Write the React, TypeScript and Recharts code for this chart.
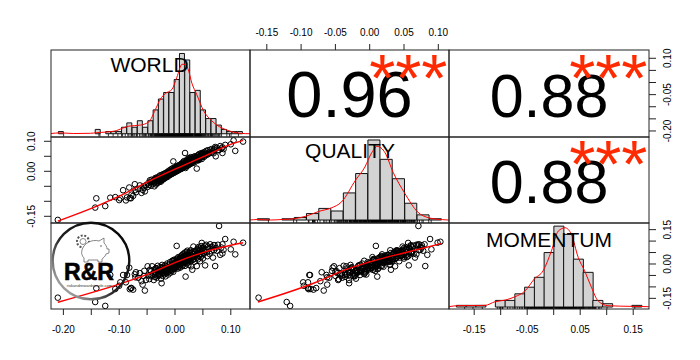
import React from "react";
import { BarChart, ComposedChart, ScatterChart, Scatter, Bar, Line, XAxis, YAxis } from "recharts";

const FONT = "'Liberation Sans', Arial, sans-serif";
const RED = "#ff0000";
const STAR_RED = "#ff2a00";

// panel edges on the page
const COL_EDGES = [51, 250, 449, 649];
const ROW_EDGES = [50, 137, 223, 309];
const AXIS_SPACE = 30;
// R leaves 4% of the break range on each side of a histogram
const HIST_INSET = 7.37;

// observations, same order in all three
const WORLD = [
  -0.21, -0.143, -0.141, -0.125, -0.116, -0.107, -0.1, -0.098, -0.093, -0.088,
  -0.086, -0.082, -0.081, -0.079, -0.078, -0.075, -0.072, -0.071, -0.07, -0.066,
  -0.063, -0.06, -0.058, -0.056, -0.055, -0.054, -0.052, -0.049, -0.048, -0.046,
  -0.045, -0.044, -0.043, -0.042, -0.041, -0.039, -0.038, -0.037, -0.036, -0.036,
  -0.035, -0.034, -0.034, -0.033, -0.032, -0.031, -0.031, -0.03, -0.029, -0.029,
  -0.028, -0.027, -0.027, -0.026, -0.025, -0.025, -0.024, -0.024, -0.023, -0.023,
  -0.022, -0.022, -0.021, -0.021, -0.02, -0.019, -0.019, -0.018, -0.018, -0.017,
  -0.017, -0.016, -0.016, -0.015, -0.015, -0.014, -0.014, -0.013, -0.013, -0.012,
  -0.012, -0.011, -0.011, -0.01, -0.009, -0.009, -0.008, -0.008, -0.007, -0.007,
  -0.006, -0.006, -0.005, -0.005, -0.004, -0.004, -0.003, -0.003, -0.003, -0.002,
  -0.002, -0.001, -0.001, 0, 0, 0.001, 0.001, 0.001, 0.002, 0.002,
  0.003, 0.003, 0.003, 0.004, 0.004, 0.005, 0.005, 0.005, 0.006, 0.006,
  0.007, 0.007, 0.008, 0.008, 0.008, 0.009, 0.009, 0.009, 0.01, 0.01,
  0.011, 0.011, 0.012, 0.012, 0.012, 0.013, 0.013, 0.013, 0.014, 0.014,
  0.014, 0.015, 0.015, 0.015, 0.016, 0.016, 0.016, 0.017, 0.017, 0.017,
  0.018, 0.018, 0.018, 0.019, 0.019, 0.019, 0.02, 0.02, 0.021, 0.021,
  0.021, 0.022, 0.022, 0.022, 0.023, 0.023, 0.023, 0.024, 0.024, 0.025,
  0.025, 0.025, 0.026, 0.026, 0.027, 0.027, 0.027, 0.028, 0.028, 0.028,
  0.029, 0.029, 0.03, 0.03, 0.031, 0.031, 0.032, 0.032, 0.033, 0.033,
  0.034, 0.034, 0.035, 0.035, 0.036, 0.036, 0.038, 0.039, 0.039, 0.04,
  0.04, 0.041, 0.041, 0.042, 0.042, 0.043, 0.043, 0.044, 0.044, 0.045,
  0.045, 0.046, 0.046, 0.047, 0.047, 0.048, 0.048, 0.049, 0.049, 0.05,
  0.05, 0.052, 0.052, 0.053, 0.054, 0.055, 0.056, 0.057, 0.058, 0.059,
  0.06, 0.062, 0.063, 0.065, 0.066, 0.068, 0.069, 0.07, 0.071, 0.072,
  0.073, 0.075, 0.077, 0.079, 0.081, 0.083, 0.085, 0.085, 0.087, 0.09,
  0.1, 0.105, 0.108, 0.122,
];
const QUALITY = [
  -0.162, -0.121, -0.09, -0.116, -0.088, -0.086, -0.096, -0.09, -0.063, -0.097,
  -0.087, -0.054, -0.089, -0.09, -0.078, -0.082, -0.043, -0.062, -0.07, -0.059,
  -0.047, -0.072, -0.062, -0.05, -0.055, -0.067, -0.046, -0.052, -0.04, -0.045,
  -0.03, -0.036, -0.048, -0.028, -0.034, -0.041, -0.03, -0.05, -0.026, -0.036,
  -0.022, -0.044, -0.029, -0.04, -0.021, -0.033, -0.038, -0.024, -0.018, -0.031,
  -0.036, -0.026, -0.014, -0.03, -0.02, -0.034, -0.03, -0.012, -0.024, -0.028,
  -0.016, -0.022, -0.027, -0.01, -0.018, -0.024, -0.008, -0.016, -0.02, -0.006,
  -0.022, -0.013, -0.017, -0.004, -0.019, -0.011, -0.014, -0.002, -0.018, -0.01,
  -0.005, -0.014, 0.002, -0.008, -0.012, -0.003, 0.005, -0.007, -0.01, 0.001,
  -0.004, 0.008, -0.008, -0.001, -0.005, 0.01, -0.006, 0.033, 0.002, -0.002,
  0.006, -0.004, 0.012, 0.001, 0.008, -0.002, 0.014, 0.005, 0.003, 0.01,
  0.009, 0, 0.016, 0.006, 0.012, 0.002, 0.018, 0.008, 0.011, 0.004,
  0.014, 0.02, 0.006, 0.01, 0.016, 0.022, 0.008, 0.013, 0.007, 0.018,
  0.012, 0.024, 0.016, 0.009, 0.026, 0.02, 0.014, 0.011, 0.028, 0.018,
  0.012, 0.022, 0.017, 0.03, 0.014, 0.024, 0.034, 0.02, 0.015, 0.027,
  0.061, 0.022, 0.018, 0.011, 0.031, 0.025, 0.026, 0.016, 0.03, 0.022,
  0.036, 0.02, 0.028, 0.04, 0.024, 0.033, 0.019, 0.035, 0.029, 0.026,
  0.044, 0.022, 0.031, 0.038, 0.028, 0.041, 0.024, 0.034, 0.047, 0.03,
  0.026, 0.037, 0.033, 0.043, 0.031, 0.039, 0.036, 0.028, 0.048, 0.041,
  0.034, 0.045, 0.038, 0.03, 0.05, 0.043, 0.046, 0.009, 0.04, 0.044,
  0.052, 0.04, 0.036, 0.048, 0.055, 0.046, 0.038, 0.05, 0.058, 0.043,
  0.048, 0.054, 0.046, 0.06, 0.05, 0.056, 0.041, 0.053, 0.058, 0.05,
  0.062, 0.048, 0.057, 0.064, 0.057, 0.053, 0.068, 0.06, 0.056, 0.07,
  0.058, 0.064, 0.072, 0.062, 0.074, 0.066, 0.06, 0.072, 0.076, 0.081,
  0.05, 0.078, 0.07, 0.071, 0.084, 0.076, 0.08, 0.061, 0.074, 0.088,
  0.09, 0.103, 0.068, 0.099,
];
const MOMENTUM = [
  -0.147, -0.166, -0.106, -0.183, -0.048, -0.109, -0.095, -0.08, -0.048, -0.08,
  -0.048, -0.016, -0.11, -0.105, -0.105, -0.112, -0.045, -0.058, -0.036, -0.06,
  -0.04, -0.075, -0.09, -0.052, -0.03, -0.116, -0.07, -0.01, -0.05, -0.066,
  -0.025, -0.048, -0.032, -0.054, -0.01, -0.042, -0.07, -0.034, -0.022, -0.056,
  -0.046, -0.018, -0.038, -0.06, -0.03, -0.044, -0.008, -0.052, -0.026, -0.03,
  -0.042, -0.014, -0.048, -0.036, -0.064, -0.02, -0.084, -0.028, -0.04, -0.004,
  -0.032, -0.052, -0.018, -0.012, -0.038, -0.026, -0.044, -0.006, -0.03, -0.02,
  -0.054, -0.034, -0.01, -0.024, -0.04, 0.002, -0.028, -0.016, -0.036, -0.022,
  -0.046, -0.004, -0.014, -0.032, -0.018, 0.008, -0.026, -0.038, -0.01, -0.02,
  -0.002, -0.03, 0.014, -0.024, -0.012, -0.004, -0.034, 0.012, -0.008, -0.018,
  0.018, -0.006, -0.022, 0.004, -0.014, -0.008, 0.01, 0.02, -0.016, -0.002,
  0.079, 0.006, -0.01, 0.012, 0.024, -0.004, 0.016, -0.02, 0.002, 0.03,
  0.008, -0.012, 0.022, -0.006, 0.014, 0.026, 0.004, -0.016, 0.018, 0.032,
  0.006, 0.012, 0.024, 0, 0.038, 0.01, 0.028, -0.01, 0.02, 0.042,
  0.004, 0.016, 0.034, -0.002, 0.012, 0.026, 0.046, 0.006, 0.03, 0.018,
  0.05, 0.036, -0.008, -0.055, 0.024, 0.01, 0.04, 0.018, 0.014, 0.03,
  0.052, 0.004, 0.026, 0.058, 0.034, 0.02, 0.012, 0.044, -0.004, 0.028,
  0.036, 0.016, 0.048, 0.024, 0.01, 0.054, 0.032, 0.022, 0.04, 0.06,
  0.038, -0.01, 0.03, 0.05, -0.025, 0.026, 0.042, 0.018, 0.076, 0.034,
  0.022, 0.056, 0.044, 0.01, 0.032, 0.052, 0.04, -0.009, 0.06, 0.028,
  0.066, 0.048, 0.02, 0.054, 0.074, 0.036, 0.058, 0.042, 0.07, 0.012,
  0.062, 0.03, 0.052, 0.078, 0.044, 0.092, 0.056, 0.038, 0.066, 0.024,
  0.072, 0.058, 0.046, 0.08, -0.006, 0.062, 0.084, 0.052, 0.034, 0.076,
  0.068, 0.044, 0.086, 0.056, 0.074, 0.028, 0.082, 0.06, 0.082, -0.009,
  0.07, 0.058, 0.084, 0.166, 0.04, 0.072, 0.086, 0.046, 0.062, 0.109,
  0.064, 0.097, 0.042, 0.093,
];

// smooth lines in the scatter panels
const FIT_WQ_X = [-0.21, -0.14, -0.1, -0.05, 0, 0.05, 0.1, 0.122];
const FIT_WQ_Y = [-0.166, -0.116, -0.083, -0.036, 0.007, 0.048, 0.09, 0.103];
const FIT_WM_X = [-0.21, -0.0986, -0.045, 0, 0.051, 0.084, 0.122];
const FIT_WM_Y = [-0.167, -0.087, -0.041, 0.006, 0.051, 0.073, 0.093];
const FIT_QM_X = [-0.163, -0.08, -0.036, 0.013, 0.051, 0.105];
const FIT_QM_Y = [-0.166, -0.082, -0.026, 0.02, 0.049, 0.09];

// histograms on the diagonal, one entry per bin from the first break to the last
const WORLD_BINS = [-0.215, -0.205, -0.195, -0.185, -0.175, -0.165, -0.155, -0.145, -0.135, -0.125, -0.115, -0.105, -0.095, -0.085, -0.075, -0.065, -0.055, -0.045, -0.035, -0.025, -0.015, -0.005, 0.005, 0.015, 0.025, 0.035, 0.045, 0.055, 0.065, 0.075, 0.085, 0.095, 0.105, 0.115, 0.125];
const WORLD_COUNTS = [1, 0, 0, 0, 0, 0, 0, 2, 0, 1, 1, 1, 3, 5, 3, 6, 3, 6, 11, 16, 19, 19, 25, 37, 34, 19, 20, 11, 7, 7, 4, 2, 1, 1, 1];
const QUALITY_BINS = [-0.17, -0.15, -0.13, -0.11, -0.09, -0.07, -0.05, -0.03, -0.01, 0.01, 0.03, 0.05, 0.07, 0.09, 0.11];
const QUALITY_COUNTS = [1, 0, 1, 2, 5, 9, 7, 21, 36, 62, 47, 32, 13, 4, 1];
const MOMENTUM_BINS = [-0.19, -0.17, -0.15, -0.13, -0.11, -0.09, -0.07, -0.05, -0.03, -0.01, 0.01, 0.03, 0.05, 0.07, 0.09, 0.11, 0.13, 0.15, 0.17];
const MOMENTUM_COUNTS = [1, 1, 1, 0, 4, 4, 8, 12, 18, 33, 49, 44, 29, 21, 4, 2, 0, 0, 1];

// density curves, on the same height scale as the bars
const WORLD_DENS_X = [-0.234, -0.216, -0.191, -0.159, -0.147, -0.128, -0.109, -0.096, -0.086, -0.064, -0.048, -0.036, -0.026, -0.017, -0.004, 0.005, 0.015, 0.019, 0.026, 0.034, 0.043, 0.056, 0.069, 0.081, 0.1, 0.126, 0.144];
const WORLD_DENS_Y = [0.1, 0.4, 0.1, 0.2, 0.5, 0.8, 1.5, 2.8, 3.5, 4, 5.5, 11, 16, 18.5, 20.5, 26, 32, 32, 30, 23, 18, 10.5, 6.5, 4, 1.7, 0.2, 0];
const QUALITY_DENS_X = [-0.192, -0.18, -0.159, -0.14, -0.12, -0.1, -0.08, -0.06, -0.043, -0.02, -0.005, 0.006, 0.015, 0.028, 0.041, 0.06, 0.081, 0.101, 0.121, 0.132];
const QUALITY_DENS_Y = [0, 0.4, 0, 0.4, 1, 3.1, 6.7, 9.3, 14, 31, 41, 52, 57, 52, 37, 20.7, 6.2, 1.5, 0.3, 0];
const MOMENTUM_DENS_X = [-0.215, -0.198, -0.141, -0.121, -0.1, -0.08, -0.059, -0.04, -0.022, -0.005, 0.009, 0.023, 0.036, 0.05, 0.063, 0.077, 0.091, 0.111, 0.159, 0.195];
const MOMENTUM_DENS_Y = [0.2, 0.8, 1, 3.2, 4.2, 6.2, 9.8, 17, 22, 34, 46, 48, 44, 30, 22, 12, 3.6, 0.8, 0.4, 0.2];

// axis scales of the matrix
const WORLD_X_DOMAIN = [-0.2222, 0.1344];
const QUALITY_X_DOMAIN = [-0.1745, 0.1156];
const MOMENTUM_X_DOMAIN = [-0.1975, 0.1798];
const WORLD_Y_DOMAIN = [-0.2249, 0.1342];
const QUALITY_Y_DOMAIN = [-0.1723, 0.1143];
const MOMENTUM_Y_DOMAIN = [-0.1965, 0.179];

const WORLD_X_TICKS = [-0.2, -0.15, -0.1, -0.05, 0, 0.05, 0.1];
const WORLD_X_LABELS = [-0.2, -0.1, 0, 0.1];
const QUALITY_X_TICKS = [-0.15, -0.1, -0.05, 0, 0.05, 0.1];
const MOMENTUM_X_TICKS = [-0.15, -0.1, -0.05, 0, 0.05, 0.1, 0.15];
const MOMENTUM_X_LABELS = [-0.15, -0.05, 0.05, 0.15];
const WORLD_Y_TICKS = [-0.2, -0.15, -0.1, -0.05, 0, 0.05, 0.1];
const WORLD_Y_LABELS = [-0.2, -0.05, 0.1];
const QUALITY_Y_TICKS = [-0.15, -0.1, -0.05, 0, 0.05, 0.1];
const QUALITY_Y_LABELS = [-0.15, 0, 0.1];
const MOMENTUM_Y_TICKS = [-0.15, -0.1, -0.05, 0, 0.05, 0.1, 0.15];
const MOMENTUM_Y_LABELS = [-0.15, 0, 0.15];

const toRows = (xs: number[], ys: number[]) => xs.map((x, i) => ({ x, y: ys[i] }));

const plotMargin = (col: number, row: number, hasX?: string, hasY?: string) => ({
  left: COL_EDGES[col] - (hasY === "left" ? AXIS_SPACE : 0),
  right: 700 - COL_EDGES[col + 1] - (hasY === "right" ? AXIS_SPACE : 0),
  top: ROW_EDGES[row] - (hasX === "top" ? AXIS_SPACE : 0),
  bottom: 360 - ROW_EDGES[row + 1] - (hasX === "bottom" ? AXIS_SPACE : 0),
});

const layerStyle: React.CSSProperties = { position: "absolute", left: 0, top: 0 };

const xTick = (labels: number[], side: string) => (p: any) => {
  const show = labels.includes(p.payload.value);
  if (!show) return <g />;
  return (
    <text x={p.x} y={side === "top" ? p.y - 12 : p.y + 14} textAnchor="middle" dominantBaseline="central" fontSize={10} fontFamily={FONT} fill="#000">
      {p.payload.value.toFixed(2)}
    </text>
  );
};

const yTick = (labels: number[], side: string) => (p: any) => {
  const show = labels.includes(p.payload.value);
  if (!show) return <g />;
  const tx = side === "left" ? p.x - 12 : p.x + 12;
  return (
    <text x={tx} y={p.y} transform={`rotate(-90 ${tx} ${p.y})`} textAnchor="middle" dominantBaseline="central" fontSize={10} fontFamily={FONT} fill="#000">
      {p.payload.value.toFixed(2)}
    </text>
  );
};

const ringPoint = (p: any) => <circle cx={p.cx} cy={p.cy} r={2.8} fill="none" stroke="#000" strokeWidth={1} />;
const noPoint = () => <g />;
const rugMark = (p: any) => <line x1={p.cx} x2={p.cx} y1={p.cy} y2={p.cy + 3} stroke="#000" strokeWidth={0.8} />;

type AxisSpec = { side: string; ticks: number[]; labels: number[] };

const MatrixPanel = ({ col, row, xDomain, yDomain, xAxis, yAxis, points, fit }: {
  col: number; row: number; xDomain: number[]; yDomain: number[];
  xAxis?: AxisSpec; yAxis?: AxisSpec; points?: { x: number; y: number }[]; fit?: { x: number; y: number }[];
}) => (
  <div style={layerStyle}>
    <ScatterChart width={700} height={360} margin={plotMargin(col, row, xAxis?.side, yAxis?.side)}>
      {xAxis ? (
        <XAxis type="number" dataKey="x" orientation={xAxis.side as any} height={AXIS_SPACE} domain={xDomain} ticks={xAxis.ticks} interval={0} allowDataOverflow
          axisLine={false} tickLine={{ stroke: "#222" }} tickSize={6} tickMargin={0} tick={xTick(xAxis.labels, xAxis.side)} />
      ) : (
        <XAxis type="number" dataKey="x" hide domain={xDomain} allowDataOverflow />
      )}
      {yAxis ? (
        <YAxis type="number" dataKey="y" orientation={yAxis.side as any} width={AXIS_SPACE} domain={yDomain} ticks={yAxis.ticks} interval={0} allowDataOverflow
          axisLine={false} tickLine={{ stroke: "#222" }} tickSize={7} tickMargin={0} tick={yTick(yAxis.labels, yAxis.side)} />
      ) : (
        <YAxis type="number" dataKey="y" hide domain={yDomain} allowDataOverflow />
      )}
      {points && <Scatter data={points} shape={ringPoint} isAnimationActive={false} />}
      {fit && <Scatter data={fit} shape={noPoint} line={{ stroke: RED, strokeWidth: 1.4 }} lineJointType="monotoneX" isAnimationActive={false} />}
    </ScatterChart>
  </div>
);

const HistPanel = ({ col, row, xDomain, yDomain, bins, counts, densX, densY, rug }: {
  col: number; row: number; xDomain: number[]; yDomain: number[]; bins: number[]; counts: number[];
  densX: number[]; densY: number[]; rug: number[];
}) => {
  const margin = plotMargin(col, row);
  return (
    <>
      <div style={layerStyle}>
        <BarChart width={700} height={360} barCategoryGap={0}
          margin={{ ...margin, left: margin.left + HIST_INSET, right: margin.right + HIST_INSET }}
          data={bins.map((x, i) => ({ x, count: counts[i] }))}>
          <XAxis dataKey="x" hide />
          <YAxis type="number" hide domain={yDomain} allowDataOverflow />
          <Bar dataKey="count" fill="#d3d3d3" stroke="#111" strokeWidth={1} isAnimationActive={false} />
        </BarChart>
      </div>
      <div style={layerStyle}>
        <ComposedChart width={700} height={360} margin={margin} data={toRows(densX, densY)}>
          <XAxis type="number" dataKey="x" hide domain={xDomain} allowDataOverflow />
          <YAxis type="number" hide domain={yDomain} allowDataOverflow />
          <Scatter data={rug.map((x) => ({ x, r: 0 }))} dataKey="r" shape={rugMark} isAnimationActive={false} />
          <Line dataKey="y" type="monotone" dot={false} stroke={RED} strokeWidth={1} isAnimationActive={false} />
        </ComposedChart>
      </div>
    </>
  );
};

const PanelText = ({ x, y, size, color, children }: any) => (
  <text x={x} y={y} textAnchor="middle" fontSize={size} fontFamily={FONT} fill={color ?? "#000"}>{children}</text>
);

const Stars = ({ x, y }: { x: number; y: number }) => (
  <g>
    <PanelText x={x} y={y} size={67} color={STAR_RED}>*</PanelText>
    <PanelText x={x + 26} y={y} size={67} color={STAR_RED}>*</PanelText>
    <PanelText x={x + 52} y={y} size={67} color={STAR_RED}>*</PanelText>
  </g>
);

const Logo = () => (
  <g>
    <defs>
      <linearGradient id="ring" x1="0" y1="1" x2="1" y2="0">
        <stop offset="0" stopColor="#d8d8d8" />
        <stop offset="0.45" stopColor="#222" />
        <stop offset="1" stopColor="#000" />
      </linearGradient>
    </defs>
    <circle cx={91} cy={261} r={38.3} fill="none" stroke="url(#ring)" strokeWidth={2.4} />
    <circle cx={83} cy={241.5} r={3} fill="none" stroke="#555" strokeWidth={0.7} />
    <circle cx={83} cy={241.5} r={6} fill="none" stroke="#555" strokeWidth={2} strokeDasharray="2 1.6" />
    <path d="M82 250 C84 243 92 239 99 241 L104 238 L104 243 C106 245 107 247 107 249 L109 249 L109 253 L106 254 C105 257 103 258 102 259 L102 262 L98 262 L98 260 L88 260 L88 262 L84 262 L84 258 C82 256 81 253 82 250 Z" fill="#fff" stroke="#555" strokeWidth={0.7} />
    <circle cx={101} cy={246} r={0.8} fill="#555" />
    <text x={89} y={279.7} textAnchor="middle" fontSize={23} fontWeight={700} fontFamily={FONT} fill="#000" stroke="#000" strokeWidth={0.6}>R&amp;R</text>
    <text x={89.5} y={286.5} textAnchor="middle" fontSize={4} fontFamily={FONT} fill="#333">riskandrewardsimple.com</text>
  </g>
);

const Overlay = () => (
  <svg width={700} height={360} style={layerStyle}>
    {COL_EDGES.slice(0, 3).map((x0, c) =>
      ROW_EDGES.slice(0, 3).map((y0, r) => (
        <rect key={`${c}-${r}`} x={x0} y={y0} width={COL_EDGES[c + 1] - x0} height={ROW_EDGES[r + 1] - y0} fill="none" stroke="#222" strokeWidth={1} />
      ))
    )}
    <Logo />
    <PanelText x={149.5} y={72.3} size={21}>WORLD</PanelText>
    <PanelText x={350} y={158.3} size={21}>QUALITY</PanelText>
    <PanelText x={549} y={246.7} size={21}>MOMENTUM</PanelText>
    <PanelText x={349.5} y={117} size={65}>0.96</PanelText>
    <PanelText x={549} y={116.7} size={61}>0.88</PanelText>
    <PanelText x={549} y={203.3} size={61}>0.88</PanelText>
    <Stars x={382.3} y={101} />
    <Stars x={582.3} y={101} />
    <Stars x={582.3} y={187} />
  </svg>
);

const App = () => (
  <div style={{ position: "absolute", left: 0, top: 0, width: 700, height: 360, background: "#fff" }}>
    <HistPanel col={0} row={0} xDomain={[-0.234, 0.144]} yDomain={[-1.5, 38.6]} bins={WORLD_BINS} counts={WORLD_COUNTS} densX={WORLD_DENS_X} densY={WORLD_DENS_Y} rug={WORLD} />
    <HistPanel col={1} row={1} xDomain={[-0.192, 0.132]} yDomain={[-2.3, 64.3]} bins={QUALITY_BINS} counts={QUALITY_COUNTS} densX={QUALITY_DENS_X} densY={QUALITY_DENS_Y} rug={QUALITY} />
    <HistPanel col={2} row={2} xDomain={[-0.2152, 0.1952]} yDomain={[-1.2, 50.9]} bins={MOMENTUM_BINS} counts={MOMENTUM_COUNTS} densX={MOMENTUM_DENS_X} densY={MOMENTUM_DENS_Y} rug={MOMENTUM} />

    <MatrixPanel col={0} row={1} xDomain={WORLD_X_DOMAIN} yDomain={QUALITY_Y_DOMAIN} points={toRows(WORLD, QUALITY)}
      yAxis={{ side: "left", ticks: QUALITY_Y_TICKS, labels: QUALITY_Y_LABELS }} />
    <MatrixPanel col={0} row={2} xDomain={WORLD_X_DOMAIN} yDomain={MOMENTUM_Y_DOMAIN} points={toRows(WORLD, MOMENTUM)}
      xAxis={{ side: "bottom", ticks: WORLD_X_TICKS, labels: WORLD_X_LABELS }} />
    <MatrixPanel col={1} row={2} xDomain={QUALITY_X_DOMAIN} yDomain={MOMENTUM_Y_DOMAIN} points={toRows(QUALITY, MOMENTUM)} />

    {/* red fits in their own layers so they sit above the rings */}
    <MatrixPanel col={0} row={1} xDomain={WORLD_X_DOMAIN} yDomain={QUALITY_Y_DOMAIN} fit={toRows(FIT_WQ_X, FIT_WQ_Y)} />
    <MatrixPanel col={0} row={2} xDomain={WORLD_X_DOMAIN} yDomain={MOMENTUM_Y_DOMAIN} fit={toRows(FIT_WM_X, FIT_WM_Y)} />
    <MatrixPanel col={1} row={2} xDomain={QUALITY_X_DOMAIN} yDomain={MOMENTUM_Y_DOMAIN} fit={toRows(FIT_QM_X, FIT_QM_Y)} />

    <MatrixPanel col={1} row={0} xDomain={QUALITY_X_DOMAIN} yDomain={WORLD_Y_DOMAIN}
      xAxis={{ side: "top", ticks: QUALITY_X_TICKS, labels: QUALITY_X_TICKS }} />
    <MatrixPanel col={2} row={0} xDomain={MOMENTUM_X_DOMAIN} yDomain={WORLD_Y_DOMAIN}
      yAxis={{ side: "right", ticks: WORLD_Y_TICKS, labels: WORLD_Y_LABELS }} />
    <MatrixPanel col={2} row={2} xDomain={MOMENTUM_X_DOMAIN} yDomain={MOMENTUM_Y_DOMAIN}
      xAxis={{ side: "bottom", ticks: MOMENTUM_X_TICKS, labels: MOMENTUM_X_LABELS }}
      yAxis={{ side: "right", ticks: MOMENTUM_Y_TICKS, labels: MOMENTUM_Y_LABELS }} />

    <Overlay />
  </div>
);

export default App;
